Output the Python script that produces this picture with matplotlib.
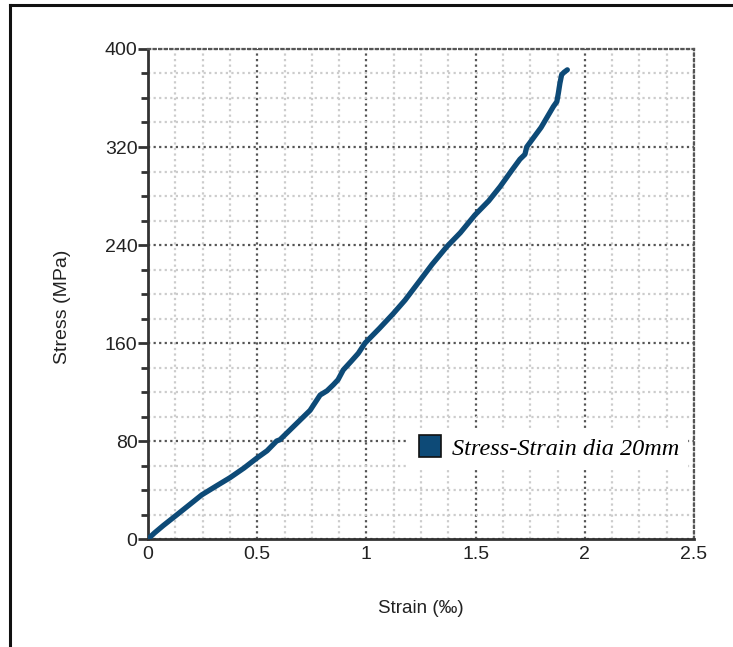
import matplotlib
matplotlib.use("Agg")
import matplotlib.pyplot as plt
from matplotlib.lines import Line2D
from matplotlib.ticker import MultipleLocator

plt.rcParams['font.family'] = ['Liberation Sans', 'DejaVu Sans']

strain = [0.0, 0.03, 0.07, 0.131, 0.19, 0.246, 0.31, 0.375, 0.44, 0.498, 0.545, 0.589,
          0.604, 0.696, 0.742, 0.788, 0.82, 0.849, 0.87, 0.894, 0.93, 0.963, 0.994,
          1.06, 1.123, 1.177, 1.245, 1.30, 1.368, 1.43, 1.497, 1.56, 1.612, 1.67,
          1.703, 1.726, 1.734, 1.80, 1.856, 1.872, 1.879, 1.886, 1.894, 1.905, 1.92]
stress = [0.0, 5, 11, 19.6, 28, 36, 43, 50, 58, 66, 72, 80,
          81, 97, 105, 117.5, 121, 126, 130, 138, 145, 151.6, 160,
          172, 184, 195, 211, 224, 238.6, 250, 264.5, 276, 287.6, 302,
          310, 314, 320, 336, 353, 357, 364, 372, 379, 381, 383]

x_ticks = [0, 0.5, 1, 1.5, 2, 2.5]
x_labels = ['0', '0.5', '1', '1.5', '2', '2.5']
y_ticks = [0, 80, 160, 240, 320, 400]
series_label = 'Stress-Strain dia 20mm'

fig = plt.figure(figsize=(7.33, 6.47), dpi=100)
ax = fig.add_axes([148/733, 1-539/647, (694-148)/733, (539-49)/647])

line_color = '#0d4a77'
ax.plot(strain, stress, color=line_color, lw=3.8, solid_capstyle='round',
        solid_joinstyle='round', zorder=3)

ax.set_xlim(0, 2.5)
ax.set_ylim(0, 400)
ax.set_xticks(x_ticks)
ax.set_xticklabels(x_labels)
ax.set_yticks(y_ticks)
ax.xaxis.set_minor_locator(MultipleLocator(0.125))
ax.yaxis.set_minor_locator(MultipleLocator(20))

ax.grid(which='major', color='#555555', linestyle=(0, (1, 1.5)), lw=1.6, zorder=1)
ax.grid(which='minor', color='#cccccc', linestyle=(0, (1, 1.5)), lw=1.6, zorder=0)
ax.set_axisbelow(True)

for s in ['top', 'right']:
    ax.spines[s].set_linestyle((0, (1, 1.5)))
    ax.spines[s].set_color('#555555')
    ax.spines[s].set_linewidth(1.6)
for s in ['left', 'bottom']:
    ax.spines[s].set_color('#333333')
    ax.spines[s].set_linewidth(2)

ax.tick_params(axis='x', which='both', length=0, pad=5, labelsize=14, labelcolor='#222222')
ax.tick_params(axis='y', which='major', length=7, width=2, color='#333333',
               pad=0.5, labelsize=14, labelcolor='#222222')
ax.tick_params(axis='y', which='minor', length=5, width=2, color='#333333')

ax.set_xlabel('Strain (‰)', fontsize=13.5, labelpad=27, color='#222222')
ax.set_ylabel('Stress (MPa)', fontsize=14, color='#222222')
ax.yaxis.set_label_coords(-0.141, 0.473)

leg = ax.legend([Line2D([], [], marker='s', linestyle='none', markersize=16,
                        markerfacecolor=line_color, markeredgecolor='#111111',
                        markeredgewidth=1.2)],
                [series_label], loc='center left', bbox_to_anchor=(0.455, 0.184),
                frameon=True, fancybox=False, framealpha=1, edgecolor='white',
                handletextpad=0.3, borderpad=0.3, handlelength=1.2,
                prop={'family': 'Liberation Serif', 'style': 'italic', 'size': 17.5})
leg.set_zorder(5)

fig.add_artist(Line2D([10/733, 10/733], [0, 1-5/647], transform=fig.transFigure,
                      color='#111111', lw=2.2))
fig.add_artist(Line2D([10/733, 1], [1-5/647, 1-5/647], transform=fig.transFigure,
                      color='#111111', lw=2.2))

fig.savefig('out.png', dpi=100)
